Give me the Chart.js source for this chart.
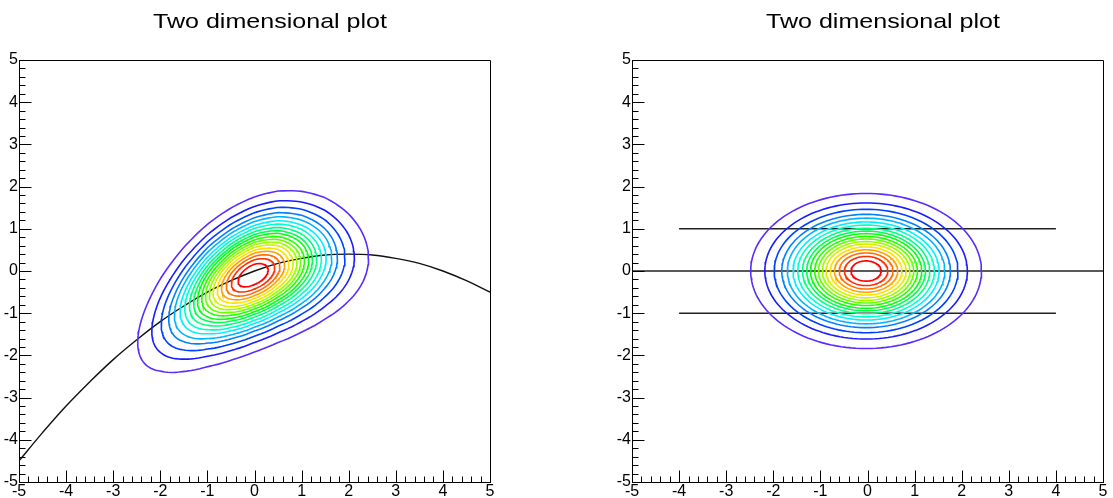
<!DOCTYPE html>
<html><head><meta charset="utf-8">
<script src="https://cdn.jsdelivr.net/npm/chart.js@4.4.1/dist/chart.umd.min.js"></script>
<style>
html,body{margin:0;padding:0;background:#fff;width:1113px;height:498px;overflow:hidden}
canvas{position:absolute;top:0}
#c1{left:0}
#c2{left:556px}
</style></head><body>
<canvas id="c1" width="556" height="498"></canvas>
<canvas id="c2" width="557" height="498"></canvas>
<script>
// ---------- data ----------
const titleText = 'Two dimensional plot';
const tickValues = [-5, -4, -3, -2, -1, 0, 1, 2, 3, 4, 5];
const tickLabels = ['-5', '-4', '-3', '-2', '-1', '0', '1', '2', '3', '4', '5'];

// black curve in the left panel
const curveX = [-5, -4.5, -4, -3.5, -3, -2.5, -2, -1.5, -1, -0.5, 0, 0.5, 1, 1.5, 2, 2.5, 3, 3.5, 4, 4.5, 5];
const curveY = [-4.5, -3.83, -3.2, -2.63, -2.1, -1.63, -1.2, -0.83, -0.5, -0.23, 0, 0.18, 0.3, 0.38, 0.4, 0.38, 0.3, 0.18, 0, -0.23, -0.5];

// horizontal lines in the right panel
const cutY = [1, 0, -1];
const cutXFrom = [-4, -5, -4];
const cutXTo = [4, 5, 4];

// contour levels (outer -> inner): size along x of each closed contour
const levelRadius = [2.45, 2.15, 1.95, 1.79, 1.67, 1.55, 1.45, 1.35, 1.26, 1.18, 1.09, 1.01, 0.93, 0.85, 0.76, 0.67, 0.57, 0.46, 0.32];
const levelColors = ['#5a2cff', '#1a1cff', '#0040ff', '#0080ff', '#00b4ff', '#00f0fc', '#00ffcc', '#00ff85', '#00ff55', '#08ff10', '#22ff00', '#69ff00', '#99ff00', '#d8f000', '#ffe000', '#ffa000', '#ff7000', '#ff3000', '#ff0000'];
const spreadX = 1.0;
const spreadY = 0.75;
const peakLeft = [-0.03, -0.08];
const peakRight = [-0.03, 0];

// ---------- helpers ----------
const FONT = "'Liberation Sans', Arial, Helvetica, sans-serif";
const TITLE_SIZE = 21;
const TITLE_TOP = 10;

function curveAt(x) {
  for (let i = 0; i < curveX.length - 1; i++) {
    if (x <= curveX[i + 1]) {
      const t = (x - curveX[i]) / (curveX[i + 1] - curveX[i]);
      return curveY[i] + t * (curveY[i + 1] - curveY[i]);
    }
  }
  return curveY[curveY.length - 1];
}

function contourPoints(r, peak, followCurve) {
  const pts = [];
  const N = 144;
  for (let i = 0; i <= N; i++) {
    const t = 2 * Math.PI * i / N;
    const x = peak[0] + spreadX * r * Math.cos(t);
    let y = peak[1] + spreadY * r * Math.sin(t);
    if (followCurve) y += curveAt(x);
    pts.push({ x, y });
  }
  return pts;
}

function contourDatasets(peak, followCurve) {
  return levelRadius.map((r, i) => ({
    data: contourPoints(r, peak, followCurve),
    showLine: true,
    borderColor: levelColors[i],
    borderWidth: 1.6,
    pointRadius: 0,
    tension: 0,
    fill: false
  }));
}

const frameTicks = {
  id: 'frameTicks',
  beforeDraw(chart) {
    const tb = chart.titleBlock;
    if (tb && !tb._stretched) {
      tb._stretched = true;
      const orig = tb.draw;
      tb.draw = function (...args) {
        const ctx = chart.ctx;
        const cx = (this.left + this.right) / 2;
        const a = chart.chartArea;
        const target = (a.left + a.right) / 2 + 15.5;
        ctx.save();
        ctx.font = TITLE_SIZE + 'px ' + FONT;
        const w = ctx.measureText(titleText).width;
        const s = 234 / w;
        ctx.translate(target, 0);
        ctx.scale(s, 1);
        ctx.translate(-cx, 0);
        orig.apply(this, args);
        ctx.restore();
      };
    }
  },
  afterDraw(chart) {
    const { ctx, chartArea: a, scales } = chart;
    const xs = scales.x, ys = scales.y;
    const L = Math.round(a.left) + 0.5, R = Math.round(a.right) + 0.5;
    const T = Math.round(a.top) + 0.5, B = Math.round(a.bottom) + 0.5;
    ctx.save();
    ctx.strokeStyle = '#000';
    ctx.lineWidth = 1;
    ctx.beginPath();
    ctx.rect(L, T, R - L, B - T);
    for (let k = 0; k < tickValues.length; k++) {
      const v = tickValues[k];
      const px = Math.round(xs.getPixelForValue(v)) + 0.5;
      ctx.moveTo(px, B); ctx.lineTo(px, B - 12);
      const py = Math.round(ys.getPixelForValue(v)) + 0.5;
      ctx.moveTo(L, py); ctx.lineTo(L + 12, py);
      if (k < tickValues.length - 1) {
        const step = (tickValues[k + 1] - v) / 5;
        for (let m = 1; m < 5; m++) {
          const mv = v + m * step;
          const mx = Math.round(xs.getPixelForValue(mv)) + 0.5;
          ctx.moveTo(mx, B); ctx.lineTo(mx, B - 6);
          const my = Math.round(ys.getPixelForValue(mv)) + 0.5;
          ctx.moveTo(L, my); ctx.lineTo(L + 6, my);
        }
      }
    }
    ctx.stroke();
    ctx.restore();
  }
};

function makeScales() {
  const common = {
    type: 'linear', min: -5, max: 5,
    grid: { display: false, drawTicks: false },
    border: { display: true, color: '#000', width: 1 },
    ticks: {
      stepSize: 1, autoSkip: false, maxRotation: 0, padding: 0, color: '#000',
      font: { family: FONT, size: 16 },
      callback: (v) => { const i = tickValues.indexOf(v); return i >= 0 ? tickLabels[i] : ''; }
    }
  };
  return {
    x: Object.assign({}, common, { position: 'bottom', afterFit: (s) => { s.height = 16; } }),
    y: Object.assign({}, common, { position: 'left', ticks: Object.assign({}, common.ticks, { padding: 1 }), afterFit: (s) => { s.width = 19; } })
  };
}

function makeOptions(padLeft, padRight) {
  return {
    responsive: false,
    animation: false,
    events: [],
    layout: { padding: { left: padLeft, right: padRight, top: 0, bottom: 0 } },
    plugins: {
      legend: { display: false },
      tooltip: { enabled: false },
      title: {
        display: true, text: titleText, color: '#000',
        font: { family: FONT, size: TITLE_SIZE, weight: 'normal' },
        padding: { top: TITLE_TOP, bottom: 60 - TITLE_TOP - TITLE_SIZE * 1.2 }
      }
    },
    scales: makeScales()
  };
}

// ---------- left panel ----------
const leftSets = contourDatasets(peakLeft, true);
leftSets.push({
  data: curveX.map((x, i) => ({ x, y: curveY[i] })),
  showLine: true, borderColor: '#111', borderWidth: 1.4, pointRadius: 0, tension: 0.4, fill: false
});
new Chart(document.getElementById('c1'), {
  type: 'scatter',
  data: { datasets: leftSets },
  options: makeOptions(0, 66),
  plugins: [frameTicks]
});

// ---------- right panel ----------
const rightSets = contourDatasets(peakRight, false);
cutY.forEach((y, i) => {
  rightSets.push({
    data: [{ x: cutXFrom[i], y }, { x: cutXTo[i], y }],
    showLine: true, borderColor: '#222', borderWidth: 1.4, pointRadius: 0, fill: false
  });
});
new Chart(document.getElementById('c2'), {
  type: 'scatter',
  data: { datasets: rightSets },
  options: makeOptions(57, 10),
  plugins: [frameTicks]
});
</script>
</body></html>
